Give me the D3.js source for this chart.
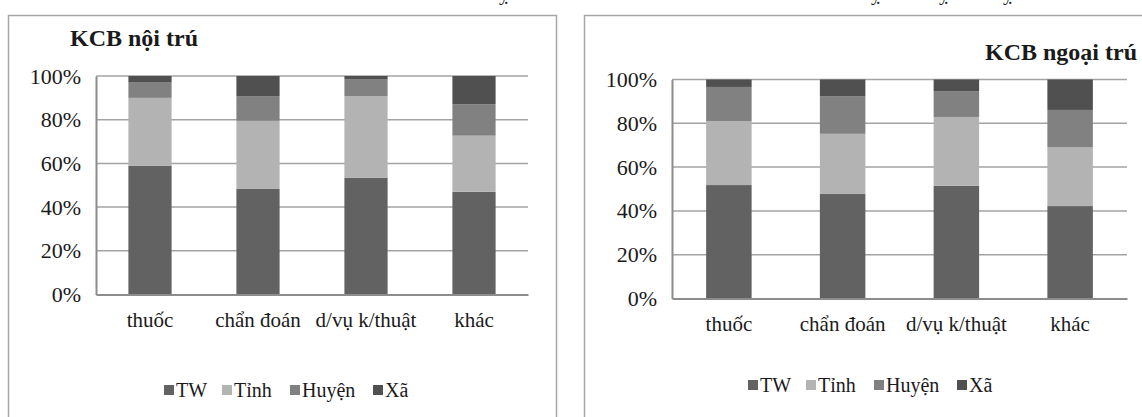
<!DOCTYPE html>
<html>
<head>
<meta charset="utf-8">
<script src="https://cdn.jsdelivr.net/npm/d3@7"></script>
<style>
  body { margin: 0; background: #fff; }
  svg text { font-family: "Liberation Serif", "Times New Roman", serif; fill: #1a1a1a; }
</style>
</head>
<body>
<div id="wrapper"></div>
<script>
// data (percent of each column)
const categories = ["thuốc", "chẩn đoán", "d/vụ k/thuật", "khác"]
const seriesNames = ["TW", "Tỉnh", "Huyện", "Xã"]
const seriesColors = ["#626262", "#b3b3b3", "#808180", "#505050"]

const noiTruTW = [59, 48.3, 53.5, 47]
const noiTruTinh = [31, 31.2, 37.3, 25.7]
const noiTruHuyen = [7, 11.3, 7.8, 14.3]
const noiTruXa = [3, 9.2, 1.4, 13]

const ngoaiTruTW = [51.8, 47.7, 51.5, 42.2]
const ngoaiTruTinh = [29.2, 27.5, 31.4, 26.8]
const ngoaiTruHuyen = [15.6, 17.2, 11.8, 17.1]
const ngoaiTruXa = [3.4, 7.6, 5.3, 13.9]

const yTicks = [0, 20, 40, 60, 80, 100]

// build rows for d3.stack
function makeRows(tw, tinh, huyen, xa) {
    return categories.map((c, i) => ({
        cat: c, "TW": tw[i], "Tỉnh": tinh[i], "Huyện": huyen[i], "Xã": xa[i]
    }))
}

const svg = d3.select("#wrapper")
    .append("svg")
        .attr("width", 1142)
        .attr("height", 417)

// cut-off caption text from above the charts (only the descenders show)
const topFragments = [504, 876, 944, 1008]
svg.selectAll("text.frag")
    .data(topFragments)
    .enter()
    .append("text")
        .attr("class", "frag")
        .attr("x", d => d)
        .attr("y", 0)
        .attr("text-anchor", "middle")
        .style("font-size", "20px")
        .text("ỵ")

function drawPanel(opts) {
    const g = svg.append("g")

    // panel frame
    g.append("rect")
        .attr("x", opts.frame[0])
        .attr("y", opts.frame[1])
        .attr("width", opts.frame[2])
        .attr("height", opts.frame[3])
        .attr("fill", "#fff")
        .attr("stroke", "#a6a6a6")
        .attr("stroke-width", 1.5)

    const xScale = d3.scaleBand()
        .domain(categories)
        .range([opts.left, opts.right])
        .paddingInner(0.6)
        .paddingOuter(0.3)

    const yScale = d3.scaleLinear()
        .domain([0, 100])
        .range([opts.bottom, opts.top])

    // gridlines
    g.append("g")
        .selectAll("line")
        .data(yTicks.filter(d => d > 0))
        .enter()
        .append("line")
            .attr("x1", opts.left)
            .attr("x2", opts.right)
            .attr("y1", d => yScale(d))
            .attr("y2", d => yScale(d))
            .attr("stroke", "#a3a3a3")
            .attr("stroke-width", 1.5)

    // stacked bars
    const stack = d3.stack().keys(seriesNames)
    const layers = stack(opts.rows)

    g.append("g")
        .selectAll("g")
        .data(layers)
        .enter()
        .append("g")
            .attr("fill", (d, i) => seriesColors[i])
        .selectAll("rect")
        .data(d => d)
        .enter()
        .append("rect")
            .attr("x", d => xScale(d.data.cat))
            .attr("width", xScale.bandwidth())
            .attr("y", d => yScale(d[1]))
            .attr("height", d => yScale(d[0]) - yScale(d[1]))

    // y axis
    const yAxis = g.append("g")
        .attr("transform", `translate(${opts.left},0)`)
        .call(d3.axisLeft(yScale)
            .tickValues(yTicks)
            .tickSize(0)
            .tickPadding(15)
            .tickFormat(d => d + "%"))
    yAxis.select(".domain")
        .attr("stroke", "#8c8c8c")
        .attr("stroke-width", 2)
    yAxis.selectAll("text")
        .attr("font-family", null)
        .style("font-size", "22px")
        .attr("fill", null)

    // x axis
    const xAxis = g.append("g")
        .attr("transform", `translate(0,${opts.bottom})`)
        .call(d3.axisBottom(xScale)
            .tickSize(0)
            .tickPadding(18))
    xAxis.select(".domain")
        .attr("stroke", "#8c8c8c")
        .attr("stroke-width", 2)
    xAxis.selectAll("text")
        .attr("font-family", null)
        .style("font-size", "21px")
        .attr("fill", null)

    // title
    g.append("text")
        .attr("x", opts.titleX)
        .attr("y", opts.titleY)
        .attr("text-anchor", opts.titleAnchor)
        .style("font-size", "24px")
        .style("font-weight", "bold")
        .text(opts.title)

    // legend
    const legend = g.append("g")
        .attr("transform", `translate(${opts.legendX},${opts.legendY})`)
    const itemOffsets = [0, 58, 126, 209]
    const items = legend.selectAll("g")
        .data(seriesNames)
        .enter()
        .append("g")
            .attr("transform", (d, i) => `translate(${itemOffsets[i]},0)`)
    items.append("rect")
        .attr("x", 0)
        .attr("y", -5)
        .attr("width", 10)
        .attr("height", 10)
        .attr("fill", (d, i) => seriesColors[i])
    items.append("text")
        .attr("x", 12)
        .attr("y", 7)
        .style("font-size", "20px")
        .text(d => d)
}

drawPanel({
    rows: makeRows(noiTruTW, noiTruTinh, noiTruHuyen, noiTruXa),
    frame: [8.5, 15.5, 548, 420],
    left: 96, right: 528, top: 76, bottom: 294.5,
    title: "KCB nội trú", titleX: 70, titleY: 46, titleAnchor: "start",
    legendX: 164, legendY: 390
})

drawPanel({
    rows: makeRows(ngoaiTruTW, ngoaiTruTinh, ngoaiTruHuyen, ngoaiTruXa),
    frame: [584.5, 15.5, 600, 420],
    left: 672, right: 1127, top: 79.5, bottom: 298.5,
    title: "KCB ngoại trú", titleX: 1137, titleY: 60, titleAnchor: "end",
    legendX: 748, legendY: 385
})
</script>
</body>
</html>
